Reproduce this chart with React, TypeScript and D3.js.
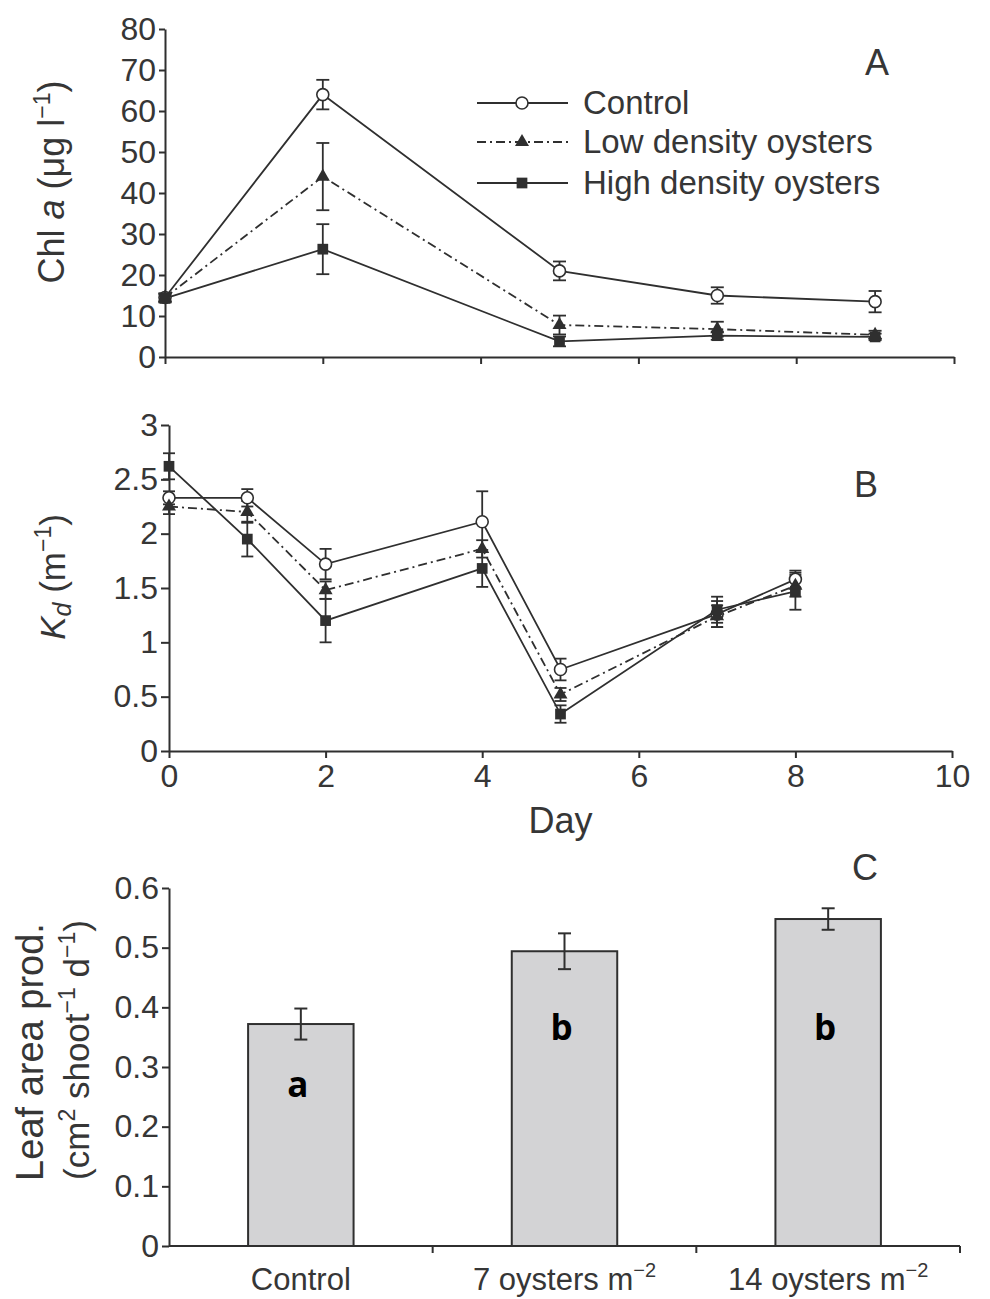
import React, { useEffect, useRef } from 'react';
import * as d3 from 'd3';

// ---- Panel A: chlorophyll a over time ----
const chlDays = [0, 2, 5, 7, 9];
const chlControl = [14.5, 64, 21, 15, 13.5];
const chlControlErr = [1, 3.6, 2.3, 2, 2.6];
const chlLow = [14.5, 44, 7.8, 6.8, 5.4];
const chlLowErr = [1, 8.2, 2.3, 1.8, 1];
const chlHigh = [14.3, 26.3, 3.8, 5.2, 4.9];
const chlHighErr = [1, 6.1, 1.2, 1, 0.8];
const chlTicks = [0, 10, 20, 30, 40, 50, 60, 70, 80];

// ---- Panel B: light attenuation coefficient ----
const kdDays = [0, 1, 2, 4, 5, 7, 8];
const kdControl = [2.33, 2.33, 1.72, 2.11, 0.75, 1.26, 1.58];
const kdControlErr = [0.06, 0.08, 0.14, 0.28, 0.1, 0.12, 0.08];
const kdLow = [2.25, 2.2, 1.48, 1.86, 0.52, 1.24, 1.52];
const kdLowErr = [0.07, 0.1, 0.08, 0.08, 0.06, 0.1, 0.1];
const kdHigh = [2.62, 1.95, 1.2, 1.68, 0.34, 1.3, 1.47];
const kdHighErr = [0.12, 0.16, 0.2, 0.17, 0.08, 0.12, 0.17];
const kdTicks = [0, 0.5, 1, 1.5, 2, 2.5, 3];
const dayTicks = [0, 2, 4, 6, 8, 10];

// ---- Panel C: leaf area productivity ----
const treatments = ['Control', '7 oysters', '14 oysters'];
const treatmentUnit = ['', 'm', 'm'];
const treatmentSup = ['', '−2', '−2'];
const leafProd = [0.372, 0.494, 0.548];
const leafErr = [0.026, 0.03, 0.018];
const letters = ['a', 'b', 'b'];
const letterLevel = [0.25, 0.345, 0.345];
const leafTicks = [0, 0.1, 0.2, 0.3, 0.4, 0.5, 0.6];

const legendNames = ['Control', 'Low density oysters', 'High density oysters'];

const INK = '#2f2f2f';
const TEXT = '#363636';
const FONT = '"Liberation Sans", Arial, Helvetica, sans-serif';
const DASH = '9,4,2,4';

type Marker = 'circle' | 'triangle' | 'square';

const triPath = d3.symbol(d3.symbolTriangle, 85)() as string;
const sqPath = d3.symbol(d3.symbolSquare, 115)() as string;

function MarkerShape({ kind, x, y }: { kind: Marker; x: number; y: number }) {
  if (kind === 'circle')
    return <circle cx={x} cy={y} r={6} fill="#fff" stroke={INK} strokeWidth={1.6} />;
  return <path d={kind === 'triangle' ? triPath : sqPath} transform={`translate(${x},${y})`} fill={INK} />;
}

function AxisG({ axis, transform }: { axis: any; transform: string }) {
  const ref = useRef<SVGGElement>(null);
  useEffect(() => {
    const g = d3.select(ref.current as SVGGElement);
    g.call(axis);
    g.attr('font-family', null).attr('font-size', null);
    g.selectAll('path, line').attr('stroke', INK).attr('stroke-width', 2);
    g.selectAll('text').attr('fill', TEXT).attr('font-family', FONT).attr('font-size', 32);
  }, [axis]);
  return <g ref={ref} transform={transform} />;
}

type SeriesDef = { values: number[]; errors: number[]; dash?: string; marker: Marker };

function LineSeries({ days, s, x, y, cap }: { days: number[]; s: SeriesDef; x: any; y: any; cap: number }) {
  const line = d3
    .line<number>()
    .x((_, i) => x(days[i]))
    .y((v) => y(v));
  return (
    <g>
      <path d={line(s.values) as string} fill="none" stroke={INK} strokeWidth={1.8} strokeDasharray={s.dash} />
      {s.values.map((v, i) => {
        const cx = x(days[i]);
        const y0 = y(v - s.errors[i]);
        const y1 = y(v + s.errors[i]);
        return (
          <g key={i} stroke={INK} strokeWidth={1.8}>
            <line x1={cx} x2={cx} y1={y0} y2={y1} />
            <line x1={cx - cap / 2} x2={cx + cap / 2} y1={y0} y2={y0} />
            <line x1={cx - cap / 2} x2={cx + cap / 2} y1={y1} y2={y1} />
          </g>
        );
      })}
    </g>
  );
}

function Markers({ days, s, x, y }: { days: number[]; s: SeriesDef; x: any; y: any }) {
  return (
    <g>
      {s.values.map((v, i) => (
        <MarkerShape key={i} kind={s.marker} x={x(days[i])} y={y(v)} />
      ))}
    </g>
  );
}

export default function App() {
  // scales
  const xA = d3.scaleLinear().domain([0, 10]).range([165, 954]);
  const yA = d3.scaleLinear().domain([0, 80]).range([357, 29]);
  const xB = d3.scaleLinear().domain([0, 10]).range([169, 952]);
  const yB = d3.scaleLinear().domain([0, 3]).range([751, 425]);
  const xC = d3.scaleBand<string>().domain(treatments).range([169, 960]).padding(0);
  const yC = d3.scaleLinear().domain([0, 0.6]).range([1246, 888]);
  const barW = xC.bandwidth() * 0.4;

  const chlSeries: SeriesDef[] = [
    { values: chlControl, errors: chlControlErr, marker: 'circle' },
    { values: chlLow, errors: chlLowErr, dash: DASH, marker: 'triangle' },
    { values: chlHigh, errors: chlHighErr, marker: 'square' },
  ];
  const kdSeries: SeriesDef[] = [
    { values: kdControl, errors: kdControlErr, marker: 'circle' },
    { values: kdLow, errors: kdLowErr, dash: DASH, marker: 'triangle' },
    { values: kdHigh, errors: kdHighErr, marker: 'square' },
  ];

  const axAy = d3.axisLeft(yA).tickValues(chlTicks).tickSize(6).tickPadding(3).tickSizeOuter(0);
  const axAx = d3.axisBottom(xA).tickValues(dayTicks).tickFormat(() => '').tickSize(7).tickSizeOuter(0);
  const axBy = d3.axisLeft(yB).tickValues(kdTicks).tickFormat((d: any) => String(d)).tickSize(8).tickPadding(3).tickSizeOuter(0);
  const axBx = d3.axisBottom(xB).tickValues(dayTicks).tickFormat((d: any) => String(d)).tickSize(7).tickPadding(6).tickSizeOuter(0);
  const axCy = d3.axisLeft(yC).tickValues(leafTicks).tickFormat((d: any) => String(d)).tickSize(7).tickPadding(3).tickSizeOuter(0);

  const [c0, c1] = xC.range();
  const boundaries = treatments.slice(1).map((t) => xC(t) as number).concat([c1]);

  const legendY = [103, 142, 183];
  const legendMarkers: Marker[] = ['circle', 'triangle', 'square'];
  const legendDash = [undefined, DASH, undefined];

  return (
    <svg width={990} height={1299} style={{ position: 'absolute', left: 0, top: 0, background: '#fff' }} fontFamily={FONT}>
      <rect width={990} height={1299} fill="#fff" />

      {/* Panel A */}
      <AxisG axis={axAy} transform={`translate(${xA(0)},0)`} />
      <AxisG axis={axAx} transform={`translate(0,${yA(0)})`} />
      {chlSeries.map((s, i) => (
        <LineSeries key={i} days={chlDays} s={s} x={xA} y={yA} cap={13} />
      ))}
      {chlSeries.map((s, i) => (
        <Markers key={i} days={chlDays} s={s} x={xA} y={yA} />
      ))}
      <text transform="translate(64,182) rotate(-90)" textAnchor="middle" fontSize={36} fill={TEXT}>
        Chl <tspan fontStyle="italic">a</tspan> (μg l
        <tspan fontSize={23} dy={-14}>−1</tspan>
        <tspan dy={14}>)</tspan>
      </text>
      <text x={877} y={75} textAnchor="middle" fontSize={36} fill={TEXT}>A</text>
      {legendNames.map((name, i) => (
        <g key={name}>
          <line x1={477} x2={568} y1={legendY[i]} y2={legendY[i]} stroke={INK} strokeWidth={1.8} strokeDasharray={legendDash[i]} />
          <MarkerShape kind={legendMarkers[i]} x={522} y={legendY[i]} />
          <text x={583} y={legendY[i] + 11} fontSize={33} fill={TEXT}>{name}</text>
        </g>
      ))}

      {/* Panel B */}
      <AxisG axis={axBy} transform={`translate(${xB(0)},0)`} />
      <AxisG axis={axBx} transform={`translate(0,${yB(0)})`} />
      {kdSeries.map((s, i) => (
        <LineSeries key={i} days={kdDays} s={s} x={xB} y={yB} cap={12} />
      ))}
      {kdSeries.map((s, i) => (
        <Markers key={i} days={kdDays} s={s} x={xB} y={yB} />
      ))}
      <text transform="translate(65,577) rotate(-90)" textAnchor="middle" fontSize={35} fill={TEXT}>
        <tspan fontStyle="italic">K</tspan>
        <tspan fontStyle="italic" fontSize={25} dy={6}>d</tspan>
        <tspan dy={-6}> (m</tspan>
        <tspan fontSize={23} dy={-14}>−1</tspan>
        <tspan dy={14}>)</tspan>
      </text>
      <text x={xB(5)} y={833} textAnchor="middle" fontSize={36} fill={TEXT}>Day</text>
      <text x={866} y={497} textAnchor="middle" fontSize={36} fill={TEXT}>B</text>

      {/* Panel C */}
      {treatments.map((t, i) => {
        const cx = (xC(t) as number) + xC.bandwidth() / 2;
        const top = yC(leafProd[i]);
        const e0 = yC(leafProd[i] - leafErr[i]);
        const e1 = yC(leafProd[i] + leafErr[i]);
        return (
          <g key={t}>
            <rect x={cx - barW / 2} y={top} width={barW} height={yC(0) - top} fill="#d3d3d5" stroke={INK} strokeWidth={2} />
            <g stroke={INK} strokeWidth={2}>
              <line x1={cx} x2={cx} y1={e0} y2={e1} />
              <line x1={cx - 6.5} x2={cx + 6.5} y1={e0} y2={e0} />
              <line x1={cx - 6.5} x2={cx + 6.5} y1={e1} y2={e1} />
            </g>
            <text x={cx - 3} y={yC(letterLevel[i])} textAnchor="middle" fontSize={35} fontWeight="bold" fontFamily='"Open Sans", sans-serif' fill="#000">
              {letters[i]}
            </text>
            <text x={cx} y={1290} textAnchor="middle" fontSize={31} fill={TEXT}>
              {t}
              {treatmentUnit[i] ? ` ${treatmentUnit[i]}` : ''}
              {treatmentSup[i] ? (
                <tspan fontSize={20} dy={-13}>{treatmentSup[i]}</tspan>
              ) : null}
            </text>
          </g>
        );
      })}
      <AxisG axis={axCy} transform={`translate(${c0},0)`} />
      <line x1={c0} x2={c1} y1={yC(0)} y2={yC(0)} stroke={INK} strokeWidth={2} />
      {boundaries.map((bx, i) => (
        <line key={i} x1={bx} x2={bx} y1={yC(0)} y2={yC(0) + 7} stroke={INK} strokeWidth={2} />
      ))}
      <text transform="translate(43,1052) rotate(-90)" textAnchor="middle" fontSize={38} fill={TEXT}>
        Leaf area prod.
      </text>
      <text transform="translate(89,1050) rotate(-90)" textAnchor="middle" fontSize={35} fill={TEXT}>
        (cm<tspan fontSize={23} dy={-14}>2</tspan>
        <tspan dy={14}> shoot</tspan>
        <tspan fontSize={23} dy={-14}>−1</tspan>
        <tspan dy={14}> d</tspan>
        <tspan fontSize={23} dy={-14}>−1</tspan>
        <tspan dy={14}>)</tspan>
      </text>
      <text x={865} y={880} textAnchor="middle" fontSize={36} fill={TEXT}>C</text>
    </svg>
  );
}
